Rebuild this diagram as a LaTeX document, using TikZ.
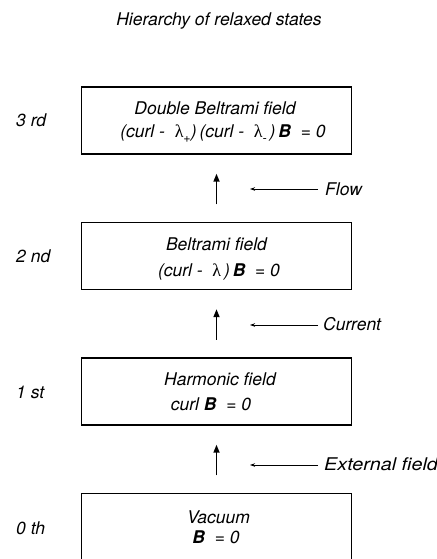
\documentclass[tikz,border=0pt]{standalone}
\usepackage{fontspec}
\setmainfont{TeX Gyre Heros}
\newfontfamily\lamfont{Liberation Serif}
\usetikzlibrary{arrows.meta}
\tikzset{
 txt/.style={font=\fontsize{17.5}{21}\selectfont\itshape, inner sep=0pt, anchor=base},
 lefttxt/.style={txt, anchor=base west},
 statebox/.style={draw, line width=1.4pt, minimum width=270pt, minimum height=67pt, inner sep=0pt},
 mainarrow/.style={-{Triangle[length=8pt,width=6pt]}, line width=1.6pt, shorten <=17.5pt, shorten >=19pt},
 sidearrow/.style={-{Stealth[length=5pt,width=3.5pt]}, line width=0.9pt},
}
\newcommand{\lam}{{\lamfont\upshape\fontsize{18}{21}\selectfont λ}}
\newcommand{\lsub}[1]{\raisebox{-0.45ex}{\fontsize{12.5}{14}\selectfont #1}}
\newcommand{\bvec}{\textbf{\itshape B}}
\begin{document}
\begin{tikzpicture}[x=1pt,y=-1pt]
\useasboundingbox (0,0) rectangle (436,559);
\clip (0,0) rectangle (436,559);
% title
\node[txt] (title) at (219,26) {Hierarchy of relaxed states};
% boxes
\node[statebox] (b3) at (216.5,120.5) {};
\node[statebox] (b2) at (216.5,256) {};
\node[statebox] (b1) at (216.5,391.5) {};
\node[statebox] (b0) at (216.5,527) {};
% box texts
\node[txt] (t3a) at (215,114) {Double Beltrami field};
\node[txt] (t3b) at (223,138) {(curl -\ \ \lam\lsub{+})\,(curl -\ \ \lam\lsub{-}\,)\,\bvec\ \ = 0};
\node[txt] (t2a) at (216.5,250) {Beltrami field};
\node[txt] (t2b) at (219,276) {(curl -\ \ \lam\,)\,\bvec\ \ = 0};
\node[txt] (t1a) at (220,385) {Harmonic field};
\node[txt] (t1b) at (211,410) {curl \bvec\ \ = 0};
\node[txt] (t0a) at (218.5,523) {Vacuum};
\node[txt] (t0b) at (216,543) {\bvec\ \ = 0};
% level labels
\node[lefttxt] (l3) at (16,127) {3 rd};
\node[lefttxt] (l2) at (16,262.5) {2 nd};
\node[lefttxt] (l1) at (16,398) {1 st};
\node[lefttxt] (l0) at (16,534) {0 th};
% main arrows
\draw[mainarrow] (b2.north) -- (b3.south);
\draw[mainarrow] (b1.north) -- (b2.south);
\draw[mainarrow] (b0.north) -- (b1.south);
% side labels and arrows
\node[lefttxt] (s3) at (325,195) {Flow};
\node[lefttxt] (s2) at (323,330.5) {Current};
\node[lefttxt] (s1) at (324,470.5) {\scalebox{1.13}[1]{External field}};
\coordinate (s3a) at (318,189);
\coordinate (s3b) at (250,189);
\coordinate (s2a) at (318,325);
\coordinate (s2b) at (250,325);
\coordinate (s1a) at (318,465);
\coordinate (s1b) at (250,465);
\draw[sidearrow] (s3a) -- (s3b);
\draw[sidearrow] (s2a) -- (s2b);
\draw[sidearrow] (s1a) -- (s1b);
\end{tikzpicture}
\end{document}
